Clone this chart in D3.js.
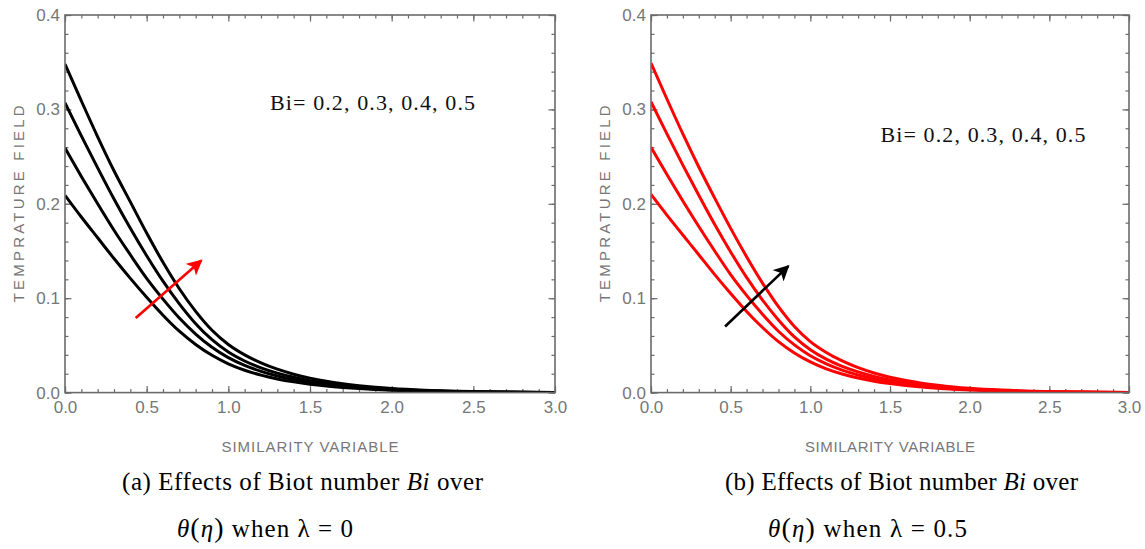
<!DOCTYPE html>
<html>
<head>
<meta charset="utf-8">
<script src="https://cdn.jsdelivr.net/npm/d3@7"></script>
<style>
    body { margin: 0; background: #fff; }
    svg { display: block; }
</style>
</head>
<body>
<div id="chart"></div>
<script>
(function () {
    const W = 1145, H = 549;

    // similarity variable eta (x values shared by every curve)
    const eta = [0, 0.1, 0.2, 0.3, 0.4, 0.5, 0.6, 0.7, 0.8, 0.9, 1.0, 1.1, 1.2, 1.3, 1.4,
        1.5, 1.6, 1.7, 1.8, 1.9, 2.0, 2.2, 2.4, 2.6, 2.8, 3.0];

    const biValues = [0.2, 0.3, 0.4, 0.5];

    // panel (a): lambda = 0
    const a_bi02 = [0.209, 0.186, 0.164, 0.142, 0.121, 0.101, 0.082, 0.065, 0.051, 0.0395, 0.0305, 0.0237, 0.0185, 0.0145, 0.0114,
        0.0089, 0.007, 0.0055, 0.0043, 0.0033, 0.0026, 0.0015, 0.0008, 0.0004, 0.0002, 0.0001];
    const a_bi03 = [0.259, 0.229, 0.200, 0.172, 0.146, 0.121, 0.099, 0.079, 0.062, 0.048, 0.037, 0.0288, 0.0225, 0.0176, 0.0138,
        0.0108, 0.0084, 0.0066, 0.0051, 0.0039, 0.003, 0.0017, 0.001, 0.0005, 0.0003, 0.0001];
    const a_bi04 = [0.307, 0.272, 0.238, 0.205, 0.174, 0.145, 0.118, 0.094, 0.073, 0.056, 0.043, 0.0335, 0.0262, 0.0206, 0.0162,
        0.0127, 0.0099, 0.0077, 0.006, 0.0046, 0.0035, 0.002, 0.0011, 0.0006, 0.0003, 0.0002];
    const a_bi05 = [0.348, 0.309, 0.271, 0.235, 0.202, 0.169, 0.138, 0.110, 0.086, 0.066, 0.051, 0.040, 0.0315, 0.0248, 0.0195,
        0.0153, 0.012, 0.0094, 0.0073, 0.0056, 0.0043, 0.0025, 0.0014, 0.0008, 0.0004, 0.0002];

    // panel (b): lambda = 0.5
    const b_bi02 = [0.210, 0.188, 0.167, 0.146, 0.125, 0.105, 0.086, 0.069, 0.054, 0.042, 0.0325, 0.0252, 0.0197, 0.0154, 0.0121,
        0.0095, 0.0074, 0.0058, 0.0046, 0.0035, 0.0027, 0.0016, 0.0009, 0.0004, 0.0002, 0.0001];
    const b_bi03 = [0.260, 0.231, 0.203, 0.176, 0.150, 0.125, 0.103, 0.083, 0.065, 0.0505, 0.039, 0.0304, 0.0238, 0.0186, 0.0146,
        0.0114, 0.0089, 0.007, 0.0054, 0.0042, 0.0032, 0.0018, 0.001, 0.0005, 0.0003, 0.0001];
    const b_bi04 = [0.308, 0.274, 0.241, 0.209, 0.178, 0.149, 0.122, 0.098, 0.077, 0.059, 0.0455, 0.0355, 0.0278, 0.0219, 0.0172,
        0.0135, 0.0105, 0.0082, 0.0064, 0.0049, 0.0037, 0.0021, 0.0012, 0.0006, 0.0003, 0.0002];
    const b_bi05 = [0.349, 0.311, 0.274, 0.239, 0.206, 0.174, 0.144, 0.116, 0.091, 0.070, 0.054, 0.0425, 0.0335, 0.0264, 0.0208,
        0.0163, 0.0128, 0.01, 0.0078, 0.006, 0.0046, 0.0027, 0.0015, 0.0008, 0.0004, 0.0002];

    // arrows showing increasing Bi, in data units [eta, theta]
    const arrowA = [[0.433, 0.079], [0.835, 0.140]];
    const arrowB = [[0.465, 0.070], [0.862, 0.134]];

    const xTicks = [0, 0.5, 1.0, 1.5, 2.0, 2.5, 3.0];
    const yTicks = [0, 0.1, 0.2, 0.3, 0.4];

    const panels = [
        {
            left: 65, right: 555, top: 15, bottom: 392.6,
            series: [a_bi02, a_bi03, a_bi04, a_bi05],
            curveColor: "#000", arrow: arrowA, arrowColor: "#ff0000",
            note: [1.255, 0.299],
            caption: "(a)", lambda: "0",
            capX: 122, capW: 361, lamX: 177, lamW: 176
        },
        {
            left: 651, right: 1129, top: 15, bottom: 392.6,
            series: [b_bi02, b_bi03, b_bi04, b_bi05],
            curveColor: "#ff0000", arrow: arrowB, arrowColor: "#000",
            note: [1.44, 0.265],
            caption: "(b)", lambda: "0.5",
            capX: 725, capW: 353, lamX: 768, lamW: 199
        }
    ];

    const svg = d3.select("#chart").append("svg")
        .attr("width", W)
        .attr("height", H);

    const defs = svg.append("defs");

    const axisColor = "#6b6b6b";
    const labelColor = "#777";
    const sans = "Arial, 'Liberation Sans', sans-serif";
    const serif = "'Liberation Serif', 'Times New Roman', serif";

    panels.forEach((p, i) => {
        const x = d3.scaleLinear().domain([0, 3]).range([p.left, p.right]);
        const y = d3.scaleLinear().domain([0, 0.4]).range([p.bottom, p.top]);

        const g = svg.append("g");

        const minorX = d3.range(0, 3.0001, 0.1);
        const minorY = d3.range(0, 0.4001, 0.02);

        const styleAxis = sel => {
            sel.select(".domain").remove();
            sel.selectAll(".tick line").attr("stroke", axisColor).attr("stroke-width", 1.2);
            sel.selectAll(".tick text")
                .attr("fill", labelColor)
                .style("font-family", sans)
                .style("font-size", "17px");
        };

        // minor ticks, all four sides, pointing inward
        g.append("g").attr("transform", `translate(0,${p.bottom})`)
            .call(d3.axisBottom(x).tickValues(minorX).tickSize(-3.5).tickFormat(""))
            .call(styleAxis);
        g.append("g").attr("transform", `translate(0,${p.top})`)
            .call(d3.axisTop(x).tickValues(minorX).tickSize(-3.5).tickFormat(""))
            .call(styleAxis);
        g.append("g").attr("transform", `translate(${p.left},0)`)
            .call(d3.axisLeft(y).tickValues(minorY).tickSize(-3.5).tickFormat(""))
            .call(styleAxis);
        g.append("g").attr("transform", `translate(${p.right},0)`)
            .call(d3.axisRight(y).tickValues(minorY).tickSize(-3.5).tickFormat(""))
            .call(styleAxis);

        // major ticks with labels
        g.append("g").attr("transform", `translate(0,${p.bottom})`)
            .call(d3.axisBottom(x).tickValues(xTicks).tickSize(-6.5).tickPadding(8).tickFormat(d3.format(".1f")))
            .call(styleAxis);
        g.append("g").attr("transform", `translate(0,${p.top})`)
            .call(d3.axisTop(x).tickValues(xTicks).tickSize(-6.5).tickFormat(""))
            .call(styleAxis);
        g.append("g").attr("transform", `translate(${p.left},0)`)
            .call(d3.axisLeft(y).tickValues(yTicks).tickSize(-6.5).tickPadding(5).tickFormat(d3.format(".1f")))
            .call(styleAxis);
        g.append("g").attr("transform", `translate(${p.right},0)`)
            .call(d3.axisRight(y).tickValues(yTicks).tickSize(-6.5).tickFormat(""))
            .call(styleAxis);

        // clip curves to the frame
        const clipId = "clip" + i;
        defs.append("clipPath").attr("id", clipId)
            .append("rect")
            .attr("x", p.left).attr("y", p.top - 2)
            .attr("width", p.right - p.left).attr("height", p.bottom - p.top + 2);

        const line = d3.line()
            .x((d, k) => x(eta[k]))
            .y(d => y(d))
            .curve(d3.curveMonotoneX);

        g.append("g").attr("clip-path", `url(#${clipId})`)
            .selectAll("path.curve")
            .data(p.series)
            .join("path")
            .attr("class", "curve")
            .attr("d", line)
            .attr("fill", "none")
            .attr("stroke", p.curveColor)
            .attr("stroke-width", 3);

        // frame
        g.append("rect")
            .attr("x", p.left).attr("y", p.top)
            .attr("width", p.right - p.left).attr("height", p.bottom - p.top)
            .attr("fill", "none")
            .attr("stroke", axisColor)
            .attr("stroke-width", 1.6);

        // arrow
        const markerId = "head" + i;
        defs.append("marker").attr("id", markerId)
            .attr("viewBox", "0 0 10 10")
            .attr("refX", 9).attr("refY", 5)
            .attr("markerWidth", 6).attr("markerHeight", 6)
            .attr("markerUnits", "strokeWidth")
            .attr("orient", "auto")
            .append("path")
            .attr("d", "M0,0 L10,5 L0,10 L2.5,5 Z")
            .attr("fill", p.arrowColor);

        g.append("line")
            .attr("x1", x(p.arrow[0][0])).attr("y1", y(p.arrow[0][1]))
            .attr("x2", x(p.arrow[1][0])).attr("y2", y(p.arrow[1][1]))
            .attr("stroke", p.arrowColor)
            .attr("stroke-width", 2.6)
            .attr("marker-end", `url(#${markerId})`);

        // Bi note
        g.append("text")
            .attr("x", x(p.note[0])).attr("y", y(p.note[1]))
            .attr("textLength", 205)
            .attr("lengthAdjust", "spacing")
            .style("font-family", serif)
            .style("font-size", "22px")
            .attr("fill", "#111")
            .text("Bi= " + biValues.map(d => d.toFixed(1)).join(", "));

        // axis titles
        const cx = (p.left + p.right) / 2;
        const cy = (p.top + p.bottom) / 2;
        g.append("text")
            .attr("transform", `translate(${p.left - 41},${cy}) rotate(-90)`)
            .attr("text-anchor", "middle")
            .attr("textLength", 197)
            .attr("lengthAdjust", "spacing")
            .attr("fill", labelColor)
            .style("font-family", sans)
            .style("font-size", "15px")
            .text("TEMPRATURE  FIELD");

        g.append("text")
            .attr("x", cx).attr("y", 452)
            .attr("text-anchor", "middle")
            .attr("textLength", p.right - p.left > 480 ? 177 : 170)
            .attr("lengthAdjust", "spacing")
            .attr("fill", labelColor)
            .style("font-family", sans)
            .style("font-size", "15px")
            .text("SIMILARITY VARIABLE");

        // captions
        const cap = g.append("text")
            .attr("x", p.capX).attr("y", 490)
            .attr("textLength", p.capW)
            .attr("lengthAdjust", "spacing")
            .attr("fill", "#000")
            .style("font-family", serif)
            .style("font-size", "25px");
        cap.append("tspan").text(p.caption + " Effects of Biot number ");
        cap.append("tspan").style("font-style", "italic").text("Bi");
        cap.append("tspan").text(" over");

        const cap2 = g.append("text")
            .attr("x", p.lamX).attr("y", 537)
            .attr("textLength", p.lamW)
            .attr("lengthAdjust", "spacing")
            .attr("fill", "#000")
            .style("font-family", serif)
            .style("font-size", "25px");
        cap2.append("tspan").style("font-style", "italic").text("θ");
        cap2.append("tspan").style("font-size", "28px").text("(");
        cap2.append("tspan").style("font-style", "italic").text("η");
        cap2.append("tspan").style("font-size", "28px").text(")");
        cap2.append("tspan").text("  when λ = " + p.lambda);
    });
})();
</script>
</body>
</html>
